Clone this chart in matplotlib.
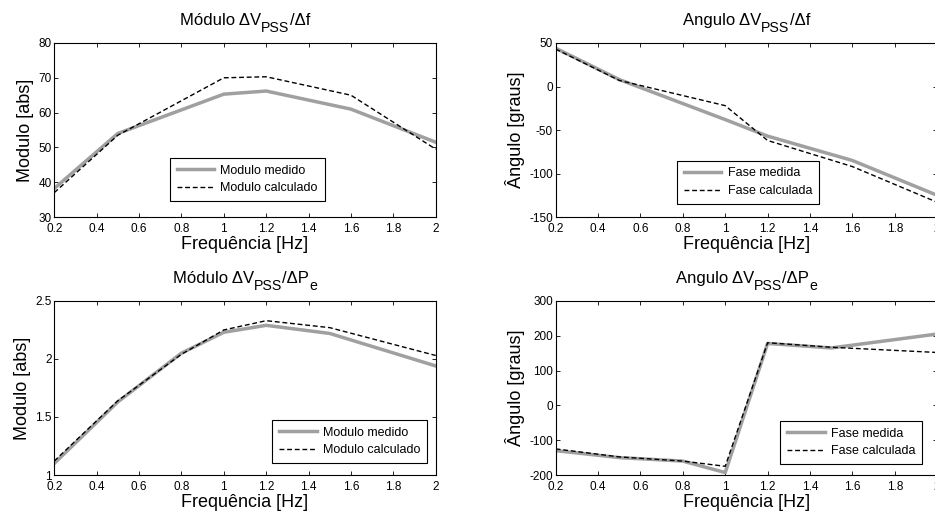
import numpy as np
import matplotlib
matplotlib.use("Agg")
import matplotlib.pyplot as plt
from matplotlib.transforms import IdentityTransform

plt.rcParams['font.family'] = ['Liberation Sans', 'DejaVu Sans']

# resposta em frequencia dV_PSS/df
freq_f = [0.2, 0.5, 1.0, 1.2, 1.6, 2.0]
mod_f_med = [38.2, 54.0, 65.3, 66.2, 61.0, 51.5]
mod_f_calc = [37.0, 53.5, 70.0, 70.3, 65.0, 49.5]
ang_f_med = [44, 8, -38, -57, -85, -125]
ang_f_calc = [43, 7, -22, -62, -92, -133]

# resposta em frequencia dV_PSS/dPe
freq_p = [0.2, 0.5, 0.8, 1.0, 1.2, 1.5, 2.0]
mod_p_med = [1.10, 1.63, 2.05, 2.23, 2.29, 2.22, 1.94]
mod_p_calc = [1.12, 1.64, 2.04, 2.25, 2.33, 2.27, 2.03]
ang_p_med = [-130, -150, -160, -193, 178, 165, 205]
ang_p_calc = [-125, -148, -160, -175, 180, 167, 152]

xticks = [0.2, 0.4, 0.6, 0.8, 1, 1.2, 1.4, 1.6, 1.8, 2]

fig = plt.figure(figsize=(9.35, 5.18), dpi=100)
w, h = 0.408, 0.336
ax1 = fig.add_axes([0.058, 0.581, w, h])
ax2 = fig.add_axes([0.5943, 0.581, w, h])
ax3 = fig.add_axes([0.058, 0.083, w, h])
ax4 = fig.add_axes([0.5943, 0.083, w, h])

renderer = fig.canvas.get_renderer()

def titulo(ax, partes, fs=12):
    # titulo montado em pedacos, com subscritos tipo MATLAB
    bb = ax.get_window_extent(renderer)
    base = bb.y1 + 18
    arts = []
    for txt, sub in partes:
        t = fig.text(0, 0, txt, fontsize=fs * (0.85 if sub else 1),
                     transform=IdentityTransform(), va='baseline')
        arts.append((t, sub))
    larg = [t.get_window_extent(renderer).width for t, s in arts]
    x = (bb.x0 + bb.x1) / 2 - sum(larg) / 2
    for (t, sub), l in zip(arts, larg):
        t.set_position((x, base - (7 if sub else 0)))
        x += l

def painel(ax, x, med, calc, ylabel, ylim, yticks, leg, anchor):
    ax.plot(x, med, color='#a0a0a0', lw=2.5, label=leg[0])
    ax.plot(x, calc, color='black', lw=1.0, ls=(0, (3.5, 2)), label=leg[1])
    ax.set_xlim(0.2, 2)
    ax.set_ylim(*ylim)
    ax.set_xticks(xticks)
    ax.set_xticklabels(['%g' % v for v in xticks])
    ax.set_yticks(yticks)
    ax.set_yticklabels(['%g' % v for v in yticks])
    ax.tick_params(direction='in', top=True, right=True, labelsize=8.5,
                   length=3, width=0.6, pad=2)
    ax.tick_params(axis='x', pad=4)
    for s in ax.spines.values():
        s.set_linewidth(0.8)
    ax.set_xlabel('Frequência [Hz]', fontsize=13, labelpad=1)
    ax.set_ylabel(ylabel, fontsize=13, labelpad=3)
    lg = ax.legend(loc='lower left', bbox_to_anchor=anchor, fontsize=9,
                   fancybox=False, framealpha=1, edgecolor='black',
                   borderpad=0.55, handlelength=3.0, handletextpad=0.5,
                   labelspacing=0.45, borderaxespad=0)
    lg.get_frame().set_linewidth(0.8)

painel(ax1, freq_f, mod_f_med, mod_f_calc, 'Modulo [abs]', (30, 80),
       [30, 40, 50, 60, 70, 80], ['Modulo medido', 'Modulo calculado'],
       (0.303, 0.092))
painel(ax2, freq_f, ang_f_med, ang_f_calc, 'Ângulo [graus]', (-150, 50),
       [-150, -100, -50, 0, 50], ['Fase medida', 'Fase calculada'],
       (0.318, 0.075))
painel(ax3, freq_p, mod_p_med, mod_p_calc, 'Modulo [abs]', (1, 2.5),
       [1, 1.5, 2, 2.5], ['Modulo medido', 'Modulo calculado'],
       (0.572, 0.067))
painel(ax4, freq_p, ang_p_med, ang_p_calc, 'Ângulo [graus]', (-200, 300),
       [-200, -100, 0, 100, 200, 300], ['Fase medida', 'Fase calculada'],
       (0.589, 0.063))

titulo(ax1, [('Módulo ΔV', False), ('PSS', True), ('/Δf', False)])
titulo(ax2, [('Angulo ΔV', False), ('PSS', True), ('/Δf', False)])
titulo(ax3, [('Módulo ΔV', False), ('PSS', True), ('/ΔP', False), ('e', True)])
titulo(ax4, [('Angulo ΔV', False), ('PSS', True), ('/ΔP', False), ('e', True)])

fig.savefig('out.png', dpi=100)
